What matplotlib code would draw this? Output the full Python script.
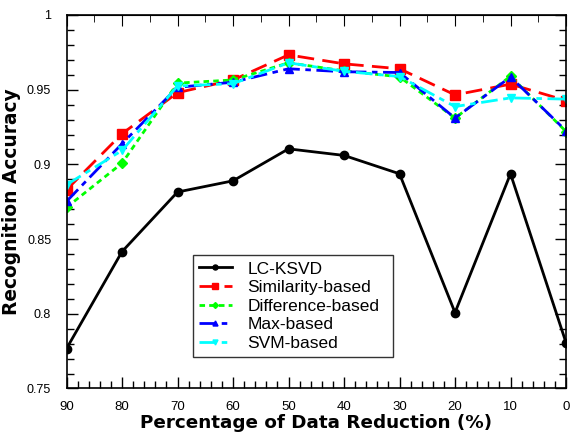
import matplotlib
matplotlib.use('Agg')
import matplotlib.pyplot as plt
from matplotlib.ticker import MultipleLocator

plt.rcParams['font.family'] = ['Liberation Sans', 'DejaVu Sans']

# data
reduction = [90, 80, 70, 60, 50, 40, 30, 20, 10, 0]
lc_ksvd = [0.7767, 0.8416, 0.8815, 0.8890, 0.9104, 0.9060, 0.8937, 0.8008, 0.8937, 0.7807]
similarity = [0.8830, 0.9205, 0.9480, 0.9565, 0.9733, 0.9673, 0.9640, 0.9465, 0.9537, 0.9427]
difference = [0.8712, 0.9008, 0.9544, 0.9565, 0.9680, 0.9626, 0.9586, 0.9310, 0.9590, 0.9220]
max_based = [0.8752, 0.9138, 0.9516, 0.9550, 0.9640, 0.9620, 0.9615, 0.9310, 0.9585, 0.9225]
svm_based = [0.8864, 0.9093, 0.9525, 0.9540, 0.9680, 0.9623, 0.9588, 0.9387, 0.9445, 0.9437]

fig = plt.figure(figsize=(5.7, 4.33), dpi=100)
ax = fig.add_axes([0.1167, 0.1028, 0.8763, 0.8626])

ax.plot(reduction, lc_ksvd, color='black', linestyle='-', marker='o', markersize=6,
        linewidth=2, label='LC-KSVD')
ax.plot(reduction, similarity, color='red', linestyle=(0, (6, 3)), marker='s', markersize=7,
        linewidth=2, label='Similarity-based')
ax.plot(reduction, difference, color='#00ff00', linestyle=(0, (2, 1.5)), marker='D', markersize=5,
        linewidth=2, label='Difference-based')
ax.plot(reduction, max_based, color='blue', linestyle=(0, (6, 2, 2, 2)), marker='^', markersize=6,
        linewidth=2, label='Max-based')
ax.plot(reduction, svm_based, color='cyan', linestyle=(0, (6, 2, 2, 2)), marker='v', markersize=6,
        linewidth=2, label='SVM-based')

ax.set_xlim(90, 0)
ax.set_ylim(0.75, 1.0)
ax.xaxis.set_major_locator(MultipleLocator(10))
ax.xaxis.set_minor_locator(MultipleLocator(2))
ax.yaxis.set_minor_locator(MultipleLocator(0.01))
ax.set_yticks([0.75, 0.8, 0.85, 0.9, 0.95, 1.0])
ax.set_yticklabels(['0.75', '0.8', '0.85', '0.9', '0.95', '1'])
ax.tick_params(which='major', direction='in', length=8, width=1, right=True, labelsize=9.5)
ax.tick_params(axis='y', which='major', pad=11, labelsize=9)
ax.tick_params(axis='x', which='major', pad=9)
ax.tick_params(which='minor', direction='in', length=5, width=1, right=True)

top = ax.secondary_xaxis('top')
top.xaxis.set_major_locator(MultipleLocator(10))
top.xaxis.set_minor_locator(MultipleLocator(5))
top.tick_params(which='major', direction='in', length=8, labeltop=False)
top.tick_params(which='minor', direction='in', length=5)
top.set_xticklabels([])

for s in ax.spines.values():
    s.set_linewidth(1.2)

ax.set_xlabel('Percentage of Data Reduction (%)', fontsize=13.2, fontweight='bold',
              family='DejaVu Sans', labelpad=1)
ax.set_ylabel('Recognition Accuracy', fontsize=13.4, fontweight='bold',
              family='DejaVu Sans')
ax.yaxis.set_label_coords(-0.092, 0.5)

leg = ax.legend(loc='lower left', bbox_to_anchor=(0.253, 0.084, 0.4, 0.292), mode='expand',
                fancybox=False, edgecolor='black', fontsize=12.5, handlelength=1.9,
                handletextpad=0.9, markerscale=0.6, borderaxespad=0, labelspacing=0.2,
                borderpad=0.35)
leg.get_frame().set_linewidth(1)

fig.savefig('out.png', dpi=100)
